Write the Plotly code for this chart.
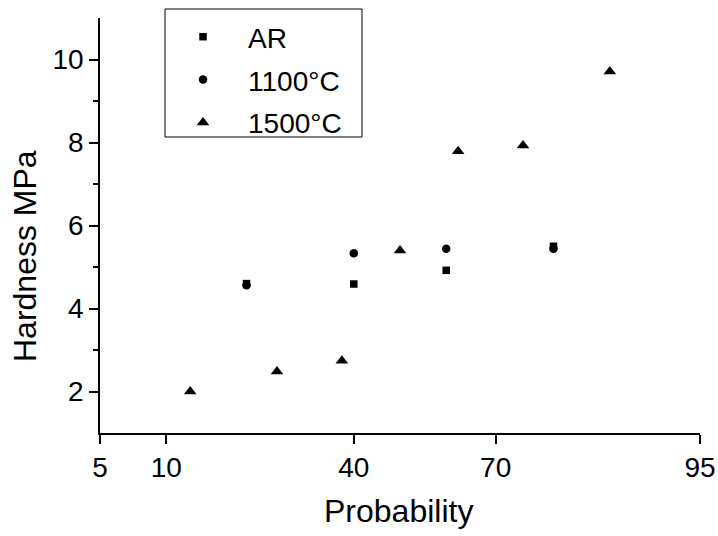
from statistics import NormalDist
import plotly.graph_objects as go

# ---- data ----
prob_ar = [20, 40, 60, 80]
hard_ar = [4.60, 4.59, 4.92, 5.50]

prob_1100 = [20, 40, 60, 80]
hard_1100 = [4.56, 5.33, 5.44, 5.44]

prob_1500 = [12.5, 25, 37.5, 50, 62.5, 75, 87.5]
hard_1500 = [2.00, 2.48, 2.74, 5.40, 7.79, 7.93, 9.71]

x_ticks = [5, 10, 40, 70, 95]
y_ticks = [2, 4, 6, 8, 10]

# normal-probability scale
nd = NormalDist()
def zp(p):
    return nd.inv_cdf(p / 100.0)

FONT = "Arial, 'Liberation Sans', sans-serif"

# plot-area geometry in pixels (for paper-coordinate conversions)
L, T, W, H = 100, 18, 600, 415
def px(x):
    return (x - L) / W
def py(y):
    return (T + H - y) / H

fig = go.Figure()
fig.add_trace(go.Scatter(x=[zp(p) for p in prob_ar], y=hard_ar, mode="markers", name="AR",
                         legendgroup="a",
                         marker=dict(symbol="square", size=7.5, color="black")))
fig.add_trace(go.Scatter(x=[zp(p) for p in prob_1100], y=hard_1100, mode="markers", name="1100°C",
                         legendgroup="b",
                         marker=dict(symbol="circle", size=8.5, color="black")))
fig.add_trace(go.Scatter(x=[zp(p) for p in prob_1500], y=hard_1500, mode="markers", name="1500°C",
                         legendgroup="c",
                         marker=dict(symbol="triangle-up", size=11, color="black")))

fig.update_layout(
    width=718, height=536,
    margin=dict(l=L, r=718 - L - W, t=T, b=536 - T - H, autoexpand=False),
    paper_bgcolor="white", plot_bgcolor="white",
    font=dict(family=FONT, color="black", size=28),
    showlegend=True,
    legend=dict(x=px(158), y=1 - 12 / 536, yref="container",
                xanchor="left", yanchor="top",
                borderwidth=0, bgcolor="rgba(0,0,0,0)",
                font=dict(size=28, family=FONT), itemwidth=80, tracegroupgap=3.5,
                traceorder="grouped"),
    shapes=[dict(type="rect", xref="paper", yref="paper",
                 x0=px(165), x1=px(362), y0=py(137), y1=py(9),
                 line=dict(color="black", width=1), fillcolor="rgba(0,0,0,0)")],
)
fig.update_xaxes(
    range=[zp(5), zp(95)], automargin=False,
    tickvals=[zp(v) for v in x_ticks], ticktext=[str(v) for v in x_ticks],
    showgrid=False, zeroline=False, showline=True, linecolor="black", linewidth=1.5,
    ticks="outside", ticklen=9, tickwidth=1.5, tickcolor="black",
    tickfont=dict(size=28, family=FONT),
)
fig.update_yaxes(
    range=[1, 11], automargin=False,
    tickvals=y_ticks,
    showgrid=False, zeroline=False, showline=True, linecolor="black", linewidth=1.5,
    ticks="outside", ticklen=9, tickwidth=1.5, tickcolor="black",
    tickfont=dict(size=28, family=FONT),
    minor=dict(tickvals=[3, 5, 7, 9], ticks="outside", ticklen=5, tickwidth=1.5, tickcolor="black"),
)
fig.add_annotation(text="Probability", xref="paper", yref="paper",
                   x=px(398), y=py(511), xanchor="center", yanchor="middle",
                   showarrow=False, font=dict(size=32, family=FONT, color="black"))
fig.add_annotation(text="Hardness MPa", xref="paper", yref="paper",
                   x=px(25), y=py(256), xanchor="center", yanchor="middle",
                   textangle=-90, showarrow=False, font=dict(size=32, family=FONT, color="black"))

fig.write_html("out.html", config={"displayModeBar": False},
               post_script="document.body.style.margin='0';")
